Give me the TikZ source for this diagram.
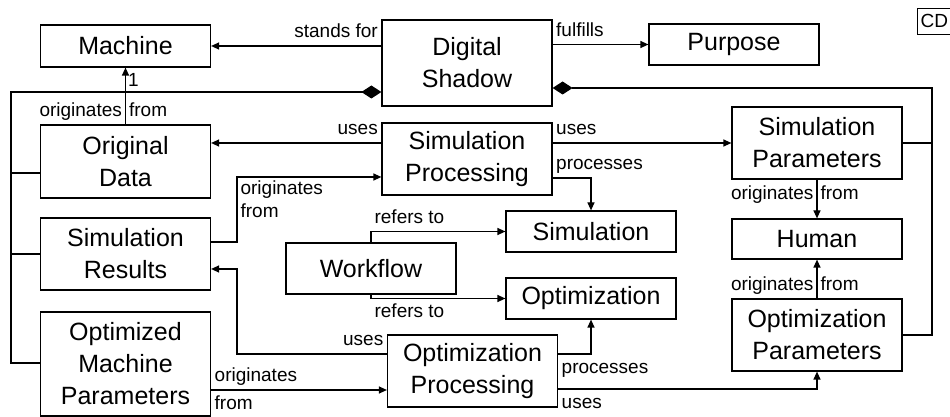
\documentclass[tikz,border=0pt]{standalone}
\usepackage{fontspec}
\setmainfont{Liberation Sans}
\usetikzlibrary{arrows.meta}
\begin{document}
\begin{tikzpicture}[x=0.5pt,y=-0.5pt,
  box/.style={draw,line width=0.6pt,minimum width=85pt,inner sep=0pt,align=center,font=\fontsize{12.5}{16}\selectfont},
  lbl/.style={font=\fontsize{9.5}{11.5}\selectfont,inner sep=1.5pt,text height=1.5ex,text depth=.45ex},
  link/.style={line width=0.6pt,-{Triangle[length=4pt,width=3.5pt]}},
  part/.style={line width=0.6pt,{Diamond[length=10pt,width=6.5pt]}-}]
\clip (0,0) rectangle (950,417);
% classes
\node[box,minimum height=21pt] (machine) at (125.5,46) {Machine};
\node[box,minimum height=43pt] (shadow) at (467,63) {Digital\\Shadow};
\node[box,minimum height=20.5pt] (purpose) at (734,44.5) {Purpose};
\node[box,minimum height=36.5pt] (origdata) at (125.5,161.5) {Original\\Data};
\node[box,minimum height=36pt] (simproc) at (467,159) {Simulation\\Processing};
\node[box,minimum height=36pt] (simpar) at (817,143) {Simulation\\Parameters};
\node[box,minimum height=36pt] (simres) at (125.5,254) {Simulation\\Results};
\node[box,minimum height=25.5pt] (workflow) at (371,268.5) {Workflow};
\node[box,minimum height=20.5pt] (sim) at (591,231.5) {Simulation};
\node[box,minimum height=20pt] (human) at (817,239) {Human};
\node[box,minimum height=20.5pt] (opt) at (591,298.5) {Optimization};
\node[box,minimum height=36pt] (optpar) at (817,335) {Optimization\\Parameters};
\node[box,minimum height=52pt] (optmach) at (125.5,364) {Optimized\\Machine\\Parameters};
\node[box,minimum height=36pt] (optproc) at (472.5,371) {Optimization\\Processing};
\node[lbl,draw,line width=0.6pt,anchor=west,inner xsep=1.5pt,minimum height=11.5pt] (cd) at (917,21.5) {CD};
% composition
\draw[part] (shadow.west |- 0,92) -- (11,92) -- (11,363) -- (optmach.west |- 0,363);
\draw[line width=0.6pt] (origdata.west |- 0,173) -- (11,173);
\draw[line width=0.6pt] (simres.west) -- (11,254);
\draw[part] (shadow.east |- 0,88) -- (932,88) |- (optpar.east);
\draw[line width=0.6pt] (simpar.east) -- (932,143);
% associations
\draw[link] (shadow.west |- machine) -- (machine.east) node[lbl,pos=0,above left] {stands for};
\draw[link] (shadow.east |- purpose) -- (purpose.west) node[lbl,pos=0,above right] {fulfills};
\draw[link] (origdata.north) -- (machine.south) node[lbl,pos=0,above left] {originates} node[lbl,pos=0,above right] {from} node[lbl,pos=1,below right,inner sep=1pt] {1};
\draw[link] (simproc.west |- 0,143) -- (origdata.east |- 0,143) node[lbl,pos=0,above left] {uses};
\draw[link] (simproc.east |- simpar) -- (simpar.west) node[lbl,pos=0,above right] {uses};
\draw[link] (simproc.east |- 0,178) -| (sim.north) node[lbl,pos=0,above right] {processes};
\draw[link] (simres.east |- 0,242) -- (237,242) |- (simproc.west |- 0,177) node[lbl,pos=0.5,below right,align=left,text height=,text depth=] {originates\\from};
\draw[link] (optproc.west |- 0,354) node[lbl,above left] {uses} -| (237,269) -- (simres.east |- 0,269);
\draw[link] (workflow.north) |- (sim.west) node[lbl,pos=0.5,above right] {refers to};
\draw[link] (workflow.south) |- (opt.west) node[lbl,pos=0.5,below right] {refers to};
\draw[link] (optproc.east |- 0,354) -| (opt.south) node[lbl,pos=0,below right] {processes};
\draw[link] (optproc.east |- 0,389) -| (optpar.south) node[lbl,pos=0,below right] {uses};
\draw[link] (optmach.east |- 0,390) -- (optproc.west |- 0,390) node[lbl,pos=0,above right] {originates} node[lbl,pos=0,below right] {from};
\draw[link] (simpar.south) -- (human.north) node[lbl,pos=0,below left] {originates} node[lbl,pos=0,below right] {from};
\draw[link] (optpar.north) -- (human.south) node[lbl,pos=0,above left] {originates} node[lbl,pos=0,above right] {from};
\end{tikzpicture}
\end{document}
